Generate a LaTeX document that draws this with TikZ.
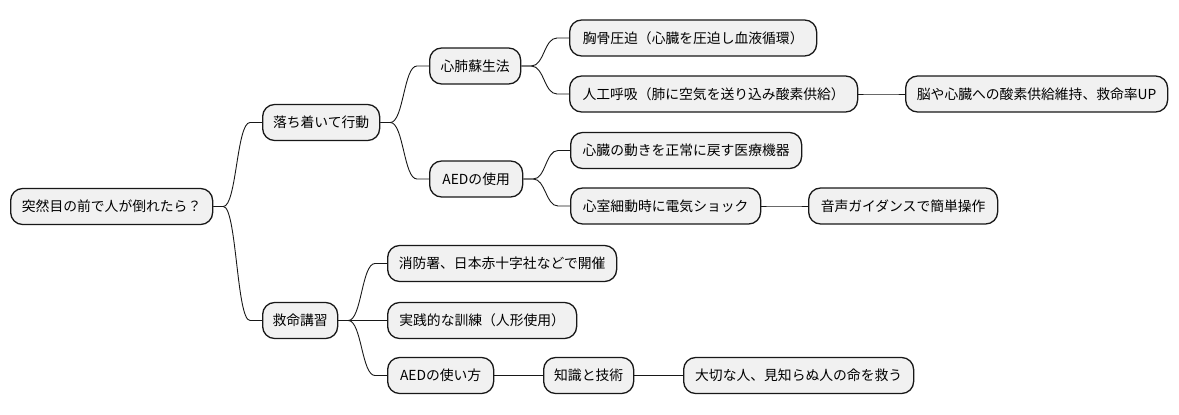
\documentclass[tikz,border=0pt]{standalone}
\usepackage{fontspec}
\setmainfont{Noto Sans CJK JP}
\usetikzlibrary{calc}
\definecolor{boxfill}{HTML}{F1F1F1}
\definecolor{boxline}{HTML}{181818}
\tikzset{
  mmbox/.style={draw=boxline, fill=boxfill, rounded corners=12pt, line width=1.3pt,
    minimum height=36pt, inner xsep=1pt, inner ysep=0pt, anchor=west,
    font=\fontsize{13.8pt}{16pt}\selectfont, text=black},
  conn/.style={draw=boxline, line width=0.9pt}
}
\newcommand\mmlink[2]{%
  \draw[conn] let \p1=($(#1.east)+(10pt,0)$), \p2=($(#2.west)+(-12pt,0)$) in
    (#1.east) -- (\p1) .. controls ({(\x1+\x2)/2},\y1) and ({(\x1+\x2)/2},\y2) .. (\p2) -- (#2.west);}
\begin{document}
\begin{tikzpicture}[x=1pt,y=-1pt]
\useasboundingbox (0,0) rectangle (1179,415);
\node[mmbox, minimum width=202pt] (root) at (10,206.5) {突然目の前で人が倒れたら？};
\node[mmbox, minimum width=117pt] (a) at (262,122.5) {落ち着いて行動};
\node[mmbox, minimum width=91pt] (a1) at (429,66) {心肺蘇生法};
\node[mmbox, minimum width=93pt] (a2) at (429,179) {AEDの使用};
\node[mmbox, minimum width=247pt] (a11) at (569,38) {胸骨圧迫（心臓を圧迫し血液循環）};
\node[mmbox, minimum width=288pt] (a12) at (569,94) {人工呼吸（肺に空気を送り込み酸素供給）};
\node[mmbox, minimum width=262pt] (a121) at (905,94) {脳や心臓への酸素供給維持、救命率UP};
\node[mmbox, minimum width=231pt] (a21) at (570,150.5) {心臓の動きを正常に戻す医療機器};
\node[mmbox, minimum width=190pt] (a22) at (570,206) {心室細動時に電気ショック};
\node[mmbox, minimum width=189pt] (a221) at (808,206) {音声ガイダンスで簡単操作};
\node[mmbox, minimum width=75pt] (b) at (262,320.5) {救命講習};
\node[mmbox, minimum width=229pt] (b1) at (387,263.5) {消防署、日本赤十字社などで開催};
\node[mmbox, minimum width=189pt] (b2) at (387,320.5) {実践的な訓練（人形使用）};
\node[mmbox, minimum width=106pt] (b3) at (387,375.5) {AEDの使い方};
\node[mmbox, minimum width=90pt] (b31) at (543,375.5) {知識と技術};
\node[mmbox, minimum width=230pt] (b311) at (683,375.5) {大切な人、見知らぬ人の命を救う};
\mmlink{root}{a}
\mmlink{root}{b}
\mmlink{a}{a1}
\mmlink{a}{a2}
\mmlink{a1}{a11}
\mmlink{a1}{a12}
\mmlink{a12}{a121}
\mmlink{a2}{a21}
\mmlink{a2}{a22}
\mmlink{a22}{a221}
\mmlink{b}{b1}
\mmlink{b}{b2}
\mmlink{b}{b3}
\mmlink{b3}{b31}
\mmlink{b31}{b311}
\end{tikzpicture}
\end{document}
